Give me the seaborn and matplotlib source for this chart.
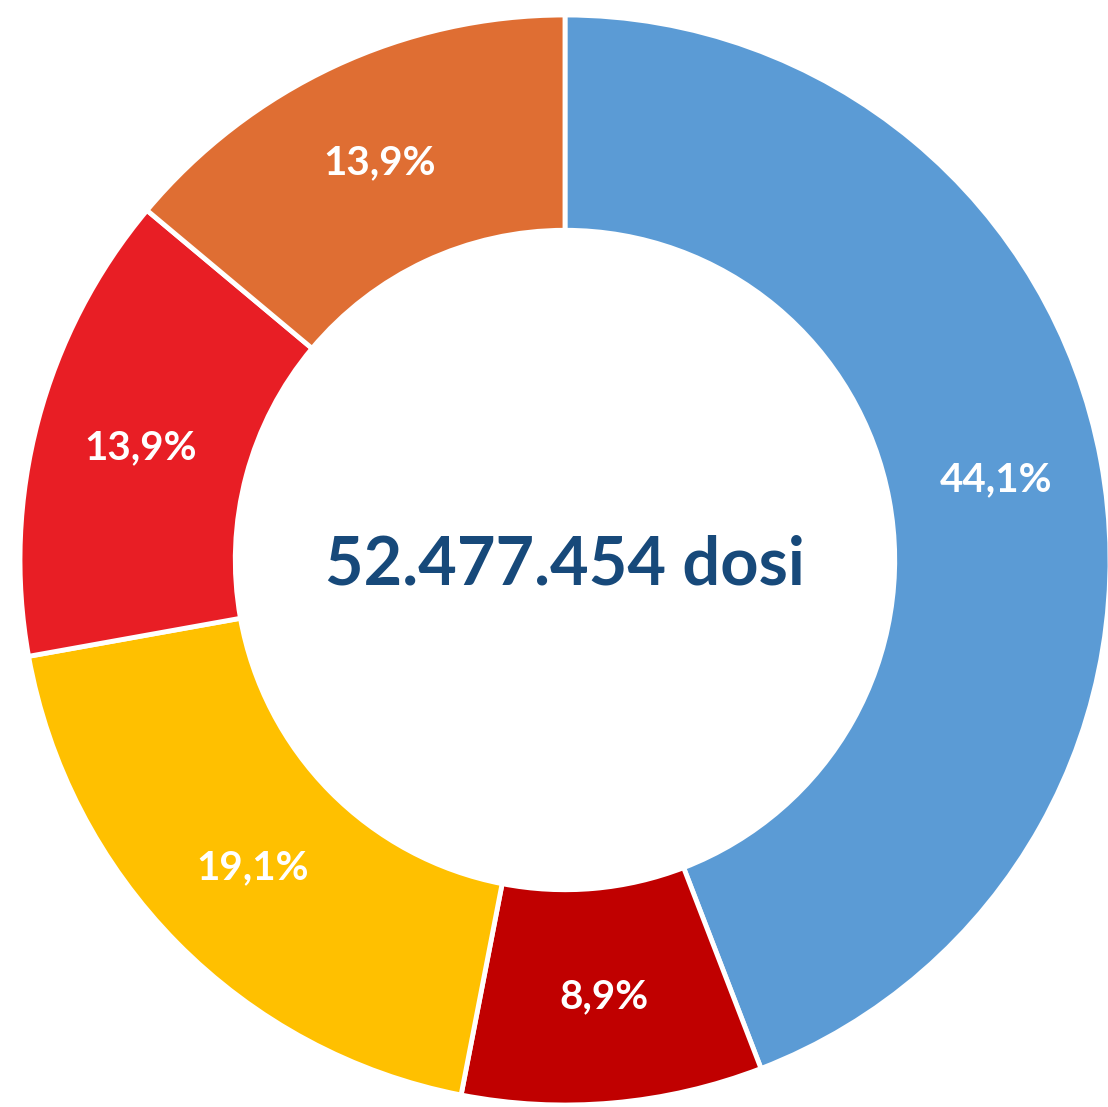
import matplotlib.pyplot as plt
import seaborn as sns
import numpy as np

# slices clockwise from 12 o'clock
quote = [44.1, 8.9, 19.1, 13.9, 13.9]
etichette = ['44,1%', '8,9%', '19,1%', '13,9%', '13,9%']
colori = ['#5B9BD5', '#C00000', '#FFC000', '#E81E25', '#DF6E33']
totale = '52.477.454 dosi'

sns.set_theme(style='white')
plt.rcParams['font.family'] = ['Lato', 'DejaVu Sans']

fig = plt.figure(figsize=(11.08, 11.07), dpi=100)
ax = fig.add_axes([0, 0, 1, 1])

wedges, _ = ax.pie(quote, colors=sns.color_palette(colori), startangle=90, counterclock=False,
                   radius=1, wedgeprops=dict(width=0.395, edgecolor='white', linewidth=3.5))

# labels in the middle of the ring
tot = sum(quote)
ang = 90
for v, lab in zip(quote, etichette):
    mid = np.deg2rad(ang - v / tot * 360 / 2)
    ax.text(0.805 * np.cos(mid), 0.805 * np.sin(mid), lab, ha='center', va='center',
            color='white', fontsize=29, fontweight='bold')
    ang -= v / tot * 360

ax.text(0.0, -0.01, totale, ha='center', va='center', color='#17497A',
        fontsize=48, fontweight='bold')

ax.set_xlim(-565 / 545, (1108 - 565) / 545)
ax.set_ylim((560 - 1107) / 545, 560 / 545)
ax.set_aspect('auto')
ax.axis('off')
plt.savefig('out.png', dpi=100)
